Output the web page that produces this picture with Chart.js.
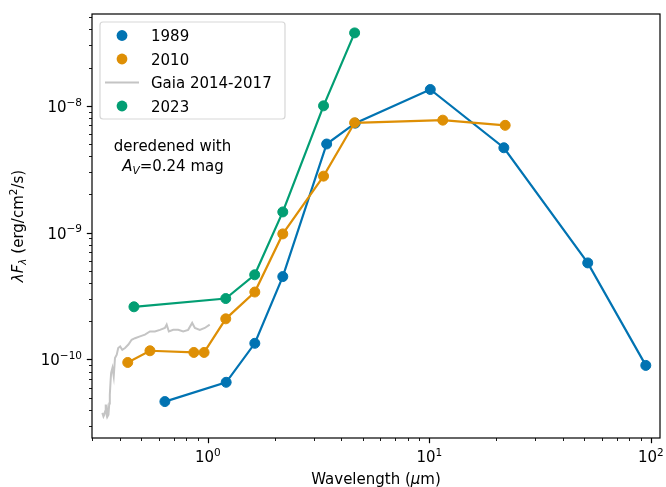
<!DOCTYPE html>
<html>
<head>
<meta charset="utf-8">
<script src="https://cdn.jsdelivr.net/npm/chart.js@4.4.1/dist/chart.umd.min.js"></script>
<style>
  html, body { margin: 0; padding: 0; background: #fff; }
  canvas { display: block; }
</style>
</head>
<body>
<canvas id="sed" width="666" height="487"></canvas>
<script>
// photometry, wavelength in micron, lambda*F_lambda in erg/cm2/s
const wave1989 = [0.64, 1.21, 1.63, 2.18, 3.44, 4.63, 10.1, 21.7, 51.9, 94.9];
const flux1989 = [4.65e-11, 6.6e-11, 1.34e-10, 4.5e-10, 5.0e-9, 7.3e-9, 1.345e-8, 4.67e-9, 5.77e-10, 8.97e-11];

const wave2010 = [0.435, 0.548, 0.865, 0.962, 1.205, 1.63, 2.18, 3.33, 4.6, 11.5, 22.0];
const flux2010 = [9.46e-11, 1.17e-10, 1.135e-10, 1.135e-10, 2.09e-10, 3.40e-10, 9.77e-10, 2.79e-9, 7.35e-9, 7.71e-9, 7.02e-9];

const wave2023 = [0.464, 1.205, 1.628, 2.18, 3.33, 4.6];
const flux2023 = [2.60e-10, 3.02e-10, 4.65e-10, 1.456e-9, 1.0e-8, 3.76e-8];

// Gaia XP spectrum (mean 2014-2017)
const waveGaia = [0.334, 0.338, 0.341, 0.344, 0.346, 0.349, 0.351, 0.354, 0.356, 0.359, 0.361, 0.364, 0.366,
  0.371, 0.376, 0.381, 0.388, 0.394, 0.402, 0.411, 0.423, 0.438, 0.453, 0.469, 0.494, 0.520, 0.548,
  0.577, 0.608, 0.640, 0.652, 0.667, 0.698, 0.735, 0.774, 0.815, 0.850, 0.874, 0.920, 0.969, 1.02];
const fluxGaia = [3.79e-11, 3.55e-11, 3.67e-11, 3.9e-11, 4.4e-11, 3.8e-11, 4.02e-11, 3.6e-11, 3.67e-11, 4.5e-11, 5.27e-11, 6.8e-11, 7.82e-11,
  8.56e-11, 7.35e-11, 1.026e-10, 1.09e-10, 1.23e-10, 1.265e-10, 1.19e-10, 1.23e-10, 1.31e-10, 1.43e-10, 1.47e-10, 1.52e-10, 1.57e-10, 1.66e-10,
  1.66e-10, 1.71e-10, 1.77e-10, 1.88e-10, 1.66e-10, 1.71e-10, 1.71e-10, 1.66e-10, 1.71e-10, 1.94e-10, 1.77e-10, 1.71e-10, 1.77e-10, 1.88e-10];

const seriesNames = ['1989', '2010', 'Gaia 2014-2017', '2023'];

// tick labels: 10^exp
const xTickValues = [1, 10, 100];
const xTickExps = ['0', '1', '2'];
const yTickValues = [1e-10, 1e-9, 1e-8];
const yTickExps = ['\u221210', '\u22129', '\u22128'];

const BLUE = '#0173b2', ORANGE = '#de8f05', GREEN = '#029e73', GREY = '#c4c4c4';
const FONT = '"DejaVu Sans"';
const FS = 15;

function pts(xs, ys) {
    return xs.map((x, i) => ({ x: x, y: ys[i] }));
}

function markerSet(label, xs, ys, color, order) {
    return {
        label: label,
        data: pts(xs, ys),
        borderColor: color,
        backgroundColor: color,
        borderWidth: 2.2,
        pointRadius: 5,
        pointBorderWidth: 1,
        pointBackgroundColor: color,
        pointBorderColor: color,
        tension: 0,
        order: order
    };
}

// draw a run of text pieces (normal / italic / sub / superscript)
function drawPieces(ctx, pieces, x, y, align) {
    let total = 0;
    pieces.forEach(p => {
        ctx.font = (p.italic ? 'italic ' : '') + p.size + 'px ' + FONT;
        p.w = ctx.measureText(p.t).width;
        total += p.w;
    });
    let cx = align === 'center' ? x - total / 2 : align === 'right' ? x - total : x;
    ctx.textAlign = 'left';
    ctx.textBaseline = 'alphabetic';
    pieces.forEach(p => {
        ctx.font = (p.italic ? 'italic ' : '') + p.size + 'px ' + FONT;
        ctx.fillText(p.t, cx, y + (p.dy || 0));
        cx += p.w;
    });
}

function powTen(exp) {
    return [{ t: '10', size: FS }, { t: exp, size: FS * 0.7, dy: -6.3 }];
}

function logTicks(scale) {
    const out = [];
    const d0 = Math.floor(Math.log10(scale.min));
    const d1 = Math.ceil(Math.log10(scale.max));
    for (let d = d0; d <= d1; d++) {
        for (let m = 1; m <= 9; m++) {
            const v = m * Math.pow(10, d);
            if (v >= scale.min && v <= scale.max) out.push({ v: v, major: m === 1 });
        }
    }
    return out;
}

const axesDecor = {
    id: 'axesDecor',
    afterDatasetsDraw(chart) {
        const ctx = chart.ctx;
        const a = chart.chartArea;
        const xs = chart.scales.x, ys = chart.scales.y;
        ctx.save();

        // frame
        ctx.strokeStyle = '#000';
        ctx.lineWidth = 1.2;
        ctx.strokeRect(a.left, a.top, a.right - a.left, a.bottom - a.top);

        // tick marks
        logTicks(xs).forEach(t => {
            const px = Math.round(xs.getPixelForValue(t.v)) + 0.5;
            ctx.lineWidth = t.major ? 1.2 : 0.9;
            ctx.beginPath();
            ctx.moveTo(px, a.bottom);
            ctx.lineTo(px, a.bottom + (t.major ? 5.2 : 3));
            ctx.stroke();
        });
        logTicks(ys).forEach(t => {
            const py = Math.round(ys.getPixelForValue(t.v)) + 0.5;
            ctx.lineWidth = t.major ? 1.2 : 0.9;
            ctx.beginPath();
            ctx.moveTo(a.left, py);
            ctx.lineTo(a.left - (t.major ? 5.2 : 3), py);
            ctx.stroke();
        });

        // tick labels
        ctx.fillStyle = '#000';
        xTickValues.forEach((v, i) => {
            drawPieces(ctx, powTen(xTickExps[i]), xs.getPixelForValue(v), a.bottom + 24, 'center');
        });
        yTickValues.forEach((v, i) => {
            drawPieces(ctx, powTen(yTickExps[i]), a.left - 10, ys.getPixelForValue(v) + 6, 'right');
        });

        // axis titles
        drawPieces(ctx, [{ t: 'Wavelength (', size: FS }, { t: '\u03bc', size: FS, italic: true }, { t: 'm)', size: FS }],
            (a.left + a.right) / 2, a.bottom + 46, 'center');
        ctx.save();
        ctx.translate(23, (a.top + a.bottom) / 2);
        ctx.rotate(-Math.PI / 2);
        drawPieces(ctx, [
            { t: '\u03bbF', size: FS, italic: true },
            { t: '\u03bb', size: FS * 0.7, italic: true, dy: 3 },
            { t: ' (erg/cm', size: FS },
            { t: '2', size: FS * 0.7, dy: -6.3 },
            { t: '/s)', size: FS }
        ], 0, 0, 'center');
        ctx.restore();

        // note on extinction correction
        drawPieces(ctx, [{ t: 'deredened with', size: FS }], 172.5, 151, 'center');
        drawPieces(ctx, [
            { t: 'A', size: FS, italic: true },
            { t: 'V', size: FS * 0.7, italic: true, dy: 3 },
            { t: '=0.24 mag', size: FS }
        ], 173, 171, 'center');

        // legend box
        const lx = a.left + 8, ly = a.top + 8, lw = 185, lh = 97, r = 3;
        ctx.beginPath();
        ctx.moveTo(lx + r, ly);
        ctx.arcTo(lx + lw, ly, lx + lw, ly + lh, r);
        ctx.arcTo(lx + lw, ly + lh, lx, ly + lh, r);
        ctx.arcTo(lx, ly + lh, lx, ly, r);
        ctx.arcTo(lx, ly, lx + lw, ly, r);
        ctx.closePath();
        ctx.fillStyle = 'rgba(255,255,255,0.8)';
        ctx.fill();
        ctx.strokeStyle = 'rgba(204,204,204,0.8)';
        ctx.lineWidth = 1.2;
        ctx.stroke();

        chart.data.datasets.forEach((ds, i) => {
            const rowY = ly + 13.5 + i * 23.5;
            if (ds.pointRadius > 0) {
                ctx.fillStyle = ds.borderColor;
                ctx.beginPath();
                ctx.arc(lx + 22, rowY, 5.4, 0, Math.PI * 2);
                ctx.fill();
            } else {
                ctx.strokeStyle = ds.borderColor;
                ctx.lineWidth = ds.borderWidth;
                ctx.beginPath();
                ctx.moveTo(lx + 5, rowY);
                ctx.lineTo(lx + 39, rowY);
                ctx.stroke();
            }
            ctx.fillStyle = '#000';
            drawPieces(ctx, [{ t: ds.label, size: FS }], lx + 51, rowY + 5.5, 'left');
        });

        ctx.restore();
    }
};

const ctx = document.getElementById('sed').getContext('2d');
const chart = new Chart(ctx, {
    type: 'line',
    data: {
        datasets: [
            markerSet(seriesNames[0], wave1989, flux1989, BLUE, 4),
            markerSet(seriesNames[1], wave2010, flux2010, ORANGE, 3),
            {
                label: seriesNames[2],
                data: pts(waveGaia, fluxGaia),
                borderColor: GREY,
                borderWidth: 2,
                pointRadius: 0,
                tension: 0,
                order: 2
            },
            markerSet(seriesNames[3], wave2023, flux2023, GREEN, 1)
        ]
    },
    options: {
        responsive: false,
        animation: false,
        layout: { padding: { left: 92, right: 5, top: 14, bottom: 49 } },
        scales: {
            x: { type: 'logarithmic', min: 0.3, max: 110, display: false },
            y: { type: 'logarithmic', min: 2.4e-11, max: 5.3e-8, display: false }
        },
        plugins: {
            legend: { display: false },
            tooltip: { enabled: false }
        }
    },
    plugins: [axesDecor]
});
</script>
</body>
</html>
